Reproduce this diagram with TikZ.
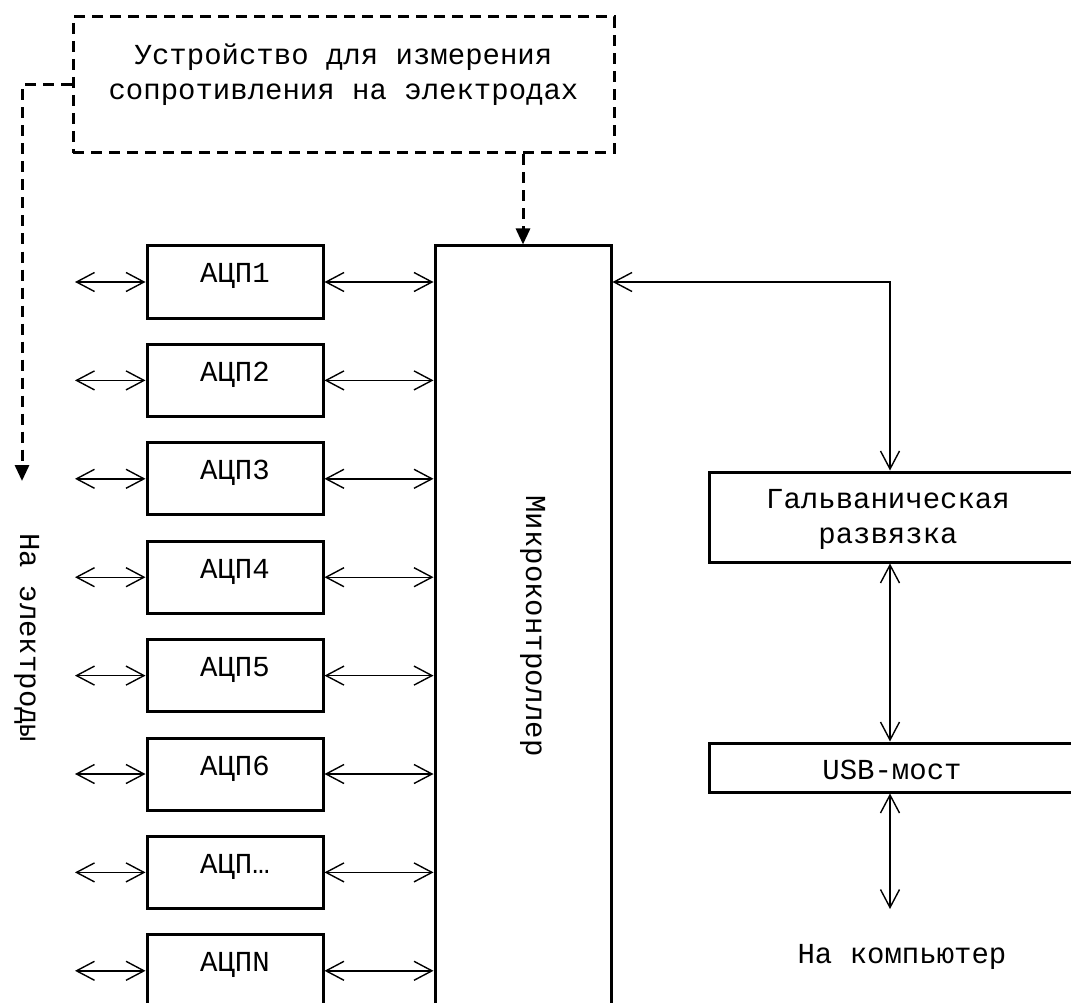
\documentclass[tikz,border=0pt]{standalone}
\usepackage{fontspec}
\setmainfont{Liberation Mono}
\usetikzlibrary{arrows.meta}
\begin{document}
\begin{tikzpicture}[x=1pt,y=-1pt,
  blk/.style={draw, line width=3pt, inner sep=0pt},
  adc/.style={blk, minimum width=176pt, minimum height=72pt,
    font=\fontsize{29}{35}\selectfont, text height=14pt, text depth=12pt},
  txt/.style={font=\fontsize{29}{35}\selectfont, inner sep=0pt, anchor=base},
  link/.style={line width=1.4pt,
    {Straight Barb[length=18pt,width=19pt]}-{Straight Barb[length=18pt,width=19pt]}},
  dlink/.style={line width=3pt, dash pattern=on 11pt off 7pt,
    -{Triangle[length=16pt,width=14pt]}},
]
\useasboundingbox (0,0) rectangle (1071,1003);
\clip (0,0) rectangle (1071,1003);

% top dashed device
\node[draw, line width=3pt, dash pattern=on 11pt off 7pt, inner sep=0pt,
  minimum width=541pt, minimum height=136pt] (dev) at (343.5,85) {};
\node[txt] (dev1) at (343.5,65) {Устройство для измерения};
\node[txt] (dev2) at (343.5,100) {сопротивления на электродах};

% microcontroller
\node[blk, minimum width=176pt, minimum height=854pt] (mc) at (523,673) {};
\node[txt, rotate=-90] (mct) at (526,626) {Микроконтроллер};

% ADCs
\foreach \i/\lab in {0/АЦП1,1/АЦП2,2/АЦП3,3/АЦП4,4/АЦП5,5/АЦП6,6/АЦП…,7/АЦПN}{
  \node[adc] (a\i) at (235,{282+98.4*\i}) {\lab};
  \coordinate (l\i) at (75,{282+98.4*\i});
  \draw[link] (l\i) -- (a\i.west);
  \draw[link] (a\i.east) -- (a\i.east -| mc.west);
}

% electrodes
\coordinate (ed) at (22,481);
\draw[dlink] (dev.west) -| (ed);
\node[txt, rotate=-90] (edt) at (20,638) {На электроды};
\draw[dlink] (dev.south -| mc.north) -- (mc.north);

% right side
\node[blk, minimum width=391pt, minimum height=90pt] (galv) at (904.5,517) {};
\node[txt] (gt1) at (888,508) {Гальваническая};
\node[txt] (gt2) at (888,543) {развязка};
\node[blk, minimum width=391pt, minimum height=49pt] (usb) at (904.5,767.5) {};
\node[txt] (usbt) at (892,779) {USB-мост};
\coordinate (bus) at (890,282);
\coordinate (pc) at (890,909);
\node[txt] (pct) at (902,963) {На компьютер};

\draw[link] (mc.east |- a0.center) -- (bus) -- (bus |- galv.north);
\draw[link] (bus |- galv.south) -- (bus |- usb.north);
\draw[link] (bus |- usb.south) -- (pc);
\end{tikzpicture}
\end{document}
